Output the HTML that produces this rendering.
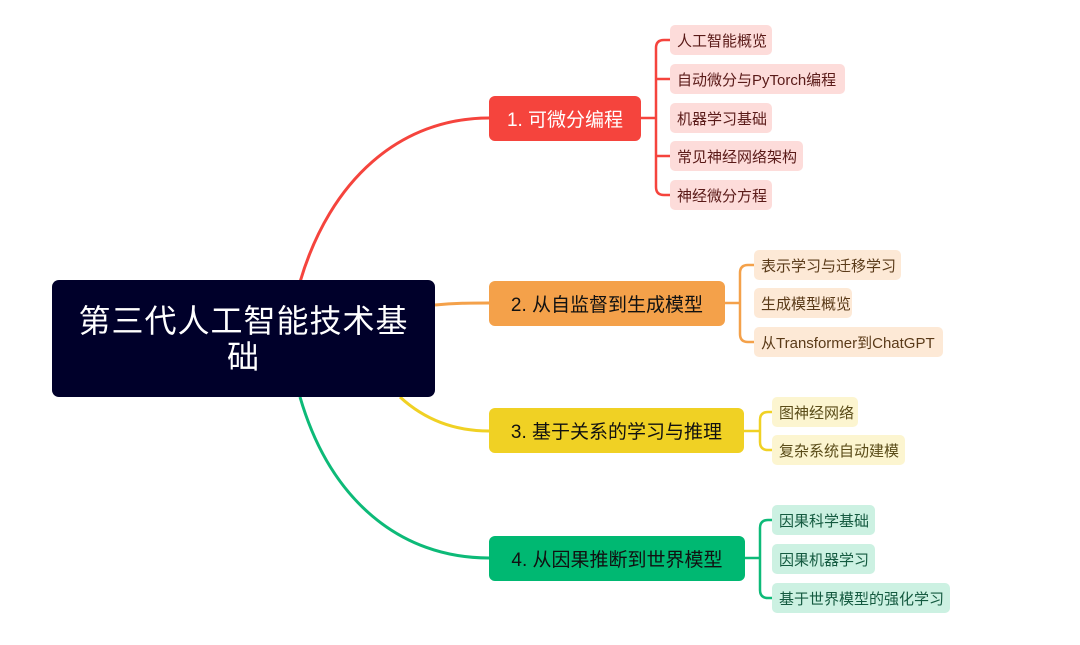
<!DOCTYPE html>
<html><head><meta charset="utf-8"><style>
body{margin:0;width:1080px;height:645px;background:#fff;position:relative;overflow:hidden;font-family:"Liberation Sans","Noto Sans CJK SC",sans-serif}
.b{position:absolute;display:flex;align-items:center;justify-content:center;box-sizing:border-box;border-radius:6px;white-space:nowrap}
.m{font-size:19px;height:45px;left:489px}
.s{font-size:15px;height:30px;border-radius:5px;padding:0 7px;justify-content:flex-start}
svg{position:absolute;left:0;top:0}
</style></head><body>
<svg width="1080" height="645" fill="none" stroke-width="3">
<path d="M300 282 C330 180 400 118 489 118" stroke="#F5443D"/>
<path d="M435 305 C455 303 470 303 489 303" stroke="#F4A14A"/>
<path d="M400 397 C425 420 455 431 489 431" stroke="#F0D124"/>
<path d="M300 397 C330 500 400 558 489 558" stroke="#0DBA78"/>
<g stroke-width="2.5">
<path d="M641 118 H656 M670 40 H664 Q656 40 656 48 V187 Q656 195 664 195 H670 M656 79 H670 M656 156 H670" stroke="#F5443D"/>
<path d="M725 303 H740 M754 265 H748 Q740 265 740 273 V334 Q740 342 748 342 H754" stroke="#F4A14A"/>
<path d="M744 431 H760 M772 412 H768 Q760 412 760 420 V442 Q760 450 768 450 H772" stroke="#F0D124"/>
<path d="M745 558 H760 M772 520 H768 Q760 520 760 528 V590 Q760 598 768 598 H772" stroke="#0DBA78"/>
</g>
</svg>
<div class="b" style="left:52px;top:280px;width:383px;height:117px;background:#00002A;color:#fff;font-size:32px;letter-spacing:1px;line-height:36px;text-align:center;white-space:normal;padding:0 26px;border-radius:7px">第三代人工智能技术基础</div>
<div class="b m" style="top:96px;width:152px;background:#F5443D;color:#fff">1. 可微分编程</div>
<div class="b m" style="top:281px;width:236px;background:#F4A14A;color:#111">2. 从自监督到生成模型</div>
<div class="b m" style="top:408px;width:255px;background:#F0D124;color:#111">3. 基于关系的学习与推理</div>
<div class="b m" style="top:536px;width:256px;background:#00B872;color:#111">4. 从因果推断到世界模型</div>

<div class="b s" style="left:670px;top:25px;width:102px;background:#FDDCDA;color:#5a1a18">人工智能概览</div>
<div class="b s" style="left:670px;top:64px;width:175px;background:#FDDCDA;color:#5a1a18">自动微分与PyTorch编程</div>
<div class="b s" style="left:670px;top:103px;width:102px;background:#FDDCDA;color:#5a1a18">机器学习基础</div>
<div class="b s" style="left:670px;top:141px;width:133px;background:#FDDCDA;color:#5a1a18">常见神经网络架构</div>
<div class="b s" style="left:670px;top:180px;width:102px;background:#FDDCDA;color:#5a1a18">神经微分方程</div>

<div class="b s" style="left:754px;top:250px;width:147px;background:#FDE9D6;color:#5a3a18">表示学习与迁移学习</div>
<div class="b s" style="left:754px;top:288px;width:98px;background:#FDE9D6;color:#5a3a18">生成模型概览</div>
<div class="b s" style="left:754px;top:327px;width:189px;background:#FDE9D6;color:#5a3a18">从Transformer到ChatGPT</div>

<div class="b s" style="left:772px;top:397px;width:86px;background:#FCF5D0;color:#5a4c18">图神经网络</div>
<div class="b s" style="left:772px;top:435px;width:133px;background:#FCF5D0;color:#5a4c18">复杂系统自动建模</div>

<div class="b s" style="left:772px;top:505px;width:103px;background:#CCF1E2;color:#145a40">因果科学基础</div>
<div class="b s" style="left:772px;top:544px;width:103px;background:#CCF1E2;color:#145a40">因果机器学习</div>
<div class="b s" style="left:772px;top:583px;width:178px;background:#CCF1E2;color:#145a40">基于世界模型的强化学习</div>
</body></html>
